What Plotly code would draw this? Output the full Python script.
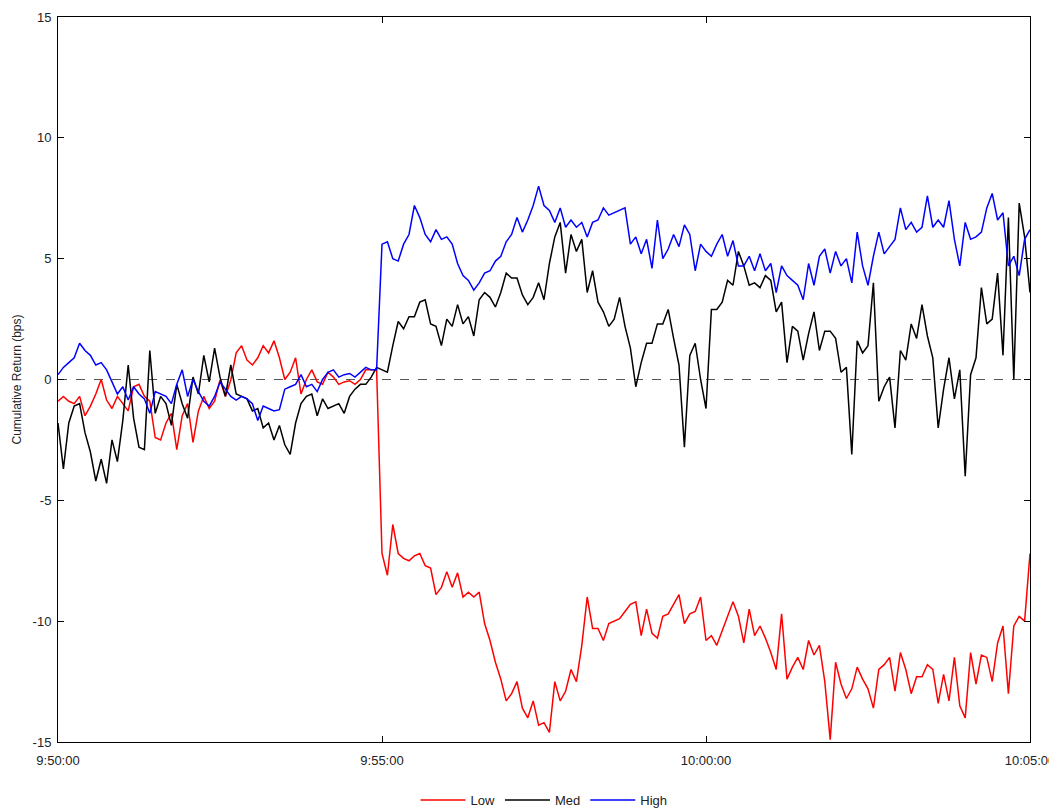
import plotly.graph_objects as go

# seconds after 9:50:00, sampled every 5 s
step_s = 5
n_pts = 181

low = [
 -0.9,-0.7,-0.9,-1.0,-0.7,-1.5,-1.1,-0.6,0.0,-0.85,
 -1.2,-0.7,-1.0,-1.3,-0.3,-0.2,-0.7,-0.9,-2.4,-2.5,
 -1.8,-1.4,-2.9,-1.5,-1.0,-2.6,-1.3,-0.7,-1.2,-0.9,
 -0.02,-0.7,-0.02,1.1,1.4,0.8,0.6,0.9,1.4,1.1,
 1.6,0.9,0.0,0.3,0.9,-0.6,0.0,0.4,-0.1,-0.2,
 0.3,0.1,-0.2,-0.1,-0.05,-0.2,0.0,0.4,0.4,0.4,
 -7.2,-8.1,-6.0,-7.2,-7.4,-7.5,-7.3,-7.2,-7.7,-7.8,
 -8.9,-8.6,-7.95,-8.6,-8.0,-9.0,-8.8,-9.0,-8.8,-10.1,
 -10.8,-11.7,-12.4,-13.3,-13.0,-12.5,-13.6,-14.0,-13.3,-14.3,
 -14.2,-14.6,-12.5,-13.3,-12.9,-12.0,-12.5,-11.0,-9.0,-10.3,
 -10.3,-10.8,-10.1,-10.0,-9.9,-9.6,-9.3,-9.2,-10.6,-9.5,
 -10.5,-10.7,-9.8,-9.7,-9.3,-8.9,-10.1,-9.7,-9.6,-9.0,
 -10.8,-10.6,-11.0,-10.4,-9.8,-9.2,-9.8,-10.9,-9.5,-10.6,
 -10.2,-10.7,-11.3,-12.0,-9.7,-12.4,-11.9,-11.5,-12.0,-10.8,
 -11.4,-11.0,-12.5,-14.9,-11.7,-12.6,-13.2,-12.8,-11.9,-12.4,
 -12.8,-13.6,-12.0,-11.8,-11.5,-12.9,-11.3,-12.0,-13.0,-12.3,
 -12.3,-11.8,-12.0,-13.4,-12.2,-13.3,-11.5,-13.5,-14.0,-11.3,
 -12.6,-11.4,-11.5,-12.5,-10.9,-10.2,-13.0,-10.2,-9.8,-10.0,
 -7.2,
]

med = [
 -1.8,-3.7,-1.8,-1.1,-1.0,-2.2,-3.0,-4.2,-3.3,-4.3,
 -2.5,-3.4,-1.7,0.6,-1.6,-2.8,-2.9,1.2,-1.4,-0.7,
 -1.0,-1.9,-0.2,-1.0,-1.6,0.1,-0.6,1.0,-0.1,1.3,
 0.1,-0.7,0.6,-0.6,-0.7,-0.8,-1.3,-1.2,-2.0,-1.8,
 -2.5,-1.9,-2.7,-3.1,-1.8,-1.0,-0.7,-0.6,-1.5,-0.8,
 -1.2,-1.1,-1.0,-1.4,-0.7,-0.4,-0.2,-0.2,0.1,0.5,
 0.4,0.3,1.4,2.4,2.1,2.6,2.6,3.2,3.3,2.3,
 2.2,1.4,2.5,2.2,3.1,2.3,2.6,1.8,3.3,3.6,
 3.4,3.0,3.6,4.4,4.2,4.2,3.5,3.1,3.4,4.0,
 3.3,4.8,5.9,6.5,4.4,6.0,5.3,5.8,3.6,4.5,
 3.2,2.8,2.2,2.5,3.4,2.2,1.3,-0.3,0.7,1.5,
 1.5,2.3,2.3,2.9,1.7,0.6,-2.8,1.0,1.5,0.0,
 -1.2,2.9,2.9,3.2,4.1,3.9,5.3,4.7,3.9,4.0,
 3.8,4.3,4.1,2.8,3.2,0.7,2.2,2.0,0.8,1.9,
 2.8,1.2,2.0,2.0,1.7,0.3,0.5,-3.1,1.6,1.1,
 1.4,4.0,-0.9,-0.3,0.1,-2.0,1.2,0.8,2.3,1.7,
 3.1,1.8,0.9,-2.0,-0.4,0.9,-0.8,0.4,-4.0,0.2,
 0.9,3.8,2.3,2.5,4.4,1.0,6.7,0.0,7.3,5.9,
 3.6,
]

high = [
 0.2,0.5,0.7,0.9,1.5,1.2,1.0,0.6,0.7,0.4,
 -0.1,-0.6,-0.3,-0.85,-0.3,-0.6,-0.8,-1.4,-0.5,-0.6,
 -0.7,-1.0,-0.2,0.4,-0.7,0.0,-0.5,-0.9,-1.1,-0.7,
 -0.1,-0.4,-0.7,-0.85,-0.7,-0.8,-1.0,-1.7,-1.1,-1.2,
 -1.3,-1.25,-0.4,-0.3,-0.2,0.2,-0.3,-0.2,-0.5,0.0,
 0.3,0.4,0.1,0.2,0.25,0.1,0.3,0.5,0.4,0.4,
 5.6,5.7,5.0,4.9,5.6,6.0,7.2,6.7,6.0,5.7,
 6.2,5.8,5.9,5.6,4.8,4.3,4.1,3.7,4.0,4.4,
 4.5,4.9,5.1,5.7,6.0,6.7,6.1,6.6,7.2,8.0,
 7.2,7.0,6.5,7.1,6.3,6.6,6.3,6.5,5.9,6.5,
 6.6,7.1,6.8,6.9,7.0,7.1,5.6,5.9,5.2,5.8,
 4.6,6.6,5.0,5.4,6.0,5.5,6.4,6.0,4.5,5.6,
 5.3,5.1,5.6,6.0,5.1,5.75,4.7,4.7,5.1,4.5,
 5.2,4.5,4.8,3.6,4.7,4.3,4.1,3.9,3.3,4.8,
 3.9,5.1,5.4,4.4,5.3,4.7,5.0,4.0,6.1,4.7,
 3.9,5.1,6.1,5.2,5.5,5.8,7.1,6.2,6.5,6.1,
 6.3,7.6,6.3,6.6,6.3,7.4,5.8,4.7,6.5,5.8,
 5.9,6.1,7.1,7.7,6.6,6.9,4.7,5.1,4.3,5.8,
 6.2,
]

series_names = ["Low", "Med", "High"]
series_colors = ["#ff0000", "#000000", "#0000ff"]

x_tick_vals = [0, 300, 600, 900]
x_tick_text = ["9:50:00", "9:55:00", "10:00:00", "10:05:00"]
y_tick_vals = [-15, -10, -5, 0, 5, 10, 15]
y_tick_text = ["-15", "-10", "-5", "0", "5", "10", "15"]

t = [i * step_s for i in range(n_pts)]

fig = go.Figure()
for name, vals, col in zip(series_names, [low, med, high], series_colors):
    fig.add_trace(go.Scatter(x=t, y=vals, mode="lines", name=name,
                             line=dict(color=col, width=1.5)))

fig.add_shape(type="line", xref="paper", yref="y", x0=0, x1=1, y0=0, y1=0,
              line=dict(color="#555555", width=1, dash="dash"), layer="below")

font_family = "Liberation Sans, Arial, sans-serif"
axis_common = dict(showline=True, linecolor="black", linewidth=1, mirror="ticks",
                   ticks="inside", ticklen=6, tickcolor="black", showgrid=False,
                   zeroline=False, automargin=False,
                   tickfont=dict(size=13, color="#222", family=font_family))

# the page body adds an 8 px offset, so the figure is 8 px smaller
fig.update_layout(
    width=1049, height=801,
    margin=dict(l=50, r=27, t=9, b=67, autoexpand=False),
    paper_bgcolor="white", plot_bgcolor="white",
    font=dict(family=font_family, color="#222"),
    showlegend=True,
    legend=dict(orientation="h", x=0.5, xanchor="center", y=-0.08, yanchor="middle",
                itemwidth=45,
                font=dict(size=13, family=font_family), bgcolor="rgba(0,0,0,0)"),
    xaxis=dict(range=[0, 900], tickvals=x_tick_vals, ticktext=x_tick_text,
               ticklabelstandoff=6, **axis_common),
    yaxis=dict(range=[-15, 15], tickvals=y_tick_vals, ticktext=y_tick_text,
               ticklabelstandoff=3,
               title=dict(text="Cumulative Return (bps)", font=dict(size=12), standoff=8),
               **axis_common),
)

fig.write_html("out.html")
